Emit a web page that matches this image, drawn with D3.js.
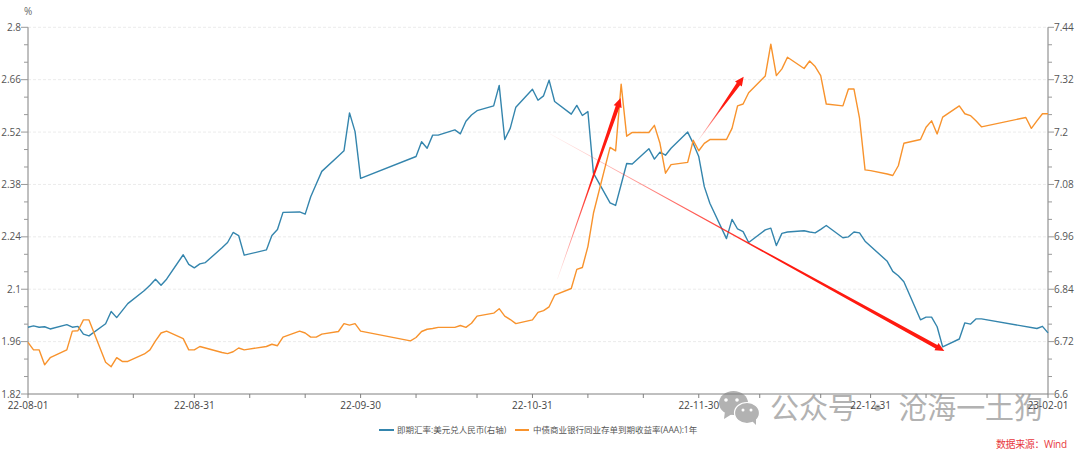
<!DOCTYPE html>
<html><head><meta charset="utf-8">
<style>html,body{margin:0;padding:0;background:#fff}svg{display:block}text{font-family:"Open Sans","Noto Sans CJK SC",sans-serif}</style>
<script src="https://cdn.jsdelivr.net/npm/d3@7"></script>
</head><body><svg id="c" width="1080" height="453"></svg>
<script>
const startDate = "2022-08-01";
const endDate = "2023-02-01";
const leftTicks = [1.82,1.96,2.1,2.24,2.38,2.52,2.66,2.8];
const rightTicks = [6.6,6.72,6.84,6.96,7.08,7.2,7.32,7.44];
const xLabelDates = ["2022-08-01","2022-08-31","2022-09-30","2022-10-31","2022-11-30","2022-12-31","2023-02-01"];
const xMinorDates = ["2022-08-10","2022-08-20","2022-09-10","2022-09-20","2022-10-10","2022-10-21","2022-11-10","2022-11-20","2022-12-11","2022-12-22","2023-01-10","2023-01-21"];
const seriesNames = ["即期汇率:美元兑人民币(右轴)","中债商业银行同业存单到期收益率(AAA):1年"];
// days since startDate
const fxDays = [0,1,2,3,4,7,8,9,10,11,14,15,16,17,18,21,22,23,24,25,28,29,30,31,32,35,36,37,38,39,43,44,45,46,49,50,51,52,53,56,57,58,59,60,70,71,72,73,74,77,78,79,80,81,84,85,86,87,88,91,92,93,94,95,98,99,100,101,102,105,106,107,108,109,112,113,114,115,116,119,120,121,122,123,126,127,128,129,130,133,134,135,136,137,140,141,142,143,144,147,148,149,150,151,155,156,157,158,161,162,163,164,165,168,169,170,171,172,182,183,184];
const fxValues = [6.753,6.756,6.753,6.754,6.749,6.759,6.753,6.755,6.737,6.733,6.761,6.789,6.775,6.791,6.807,6.837,6.849,6.863,6.849,6.863,6.919,6.897,6.889,6.898,6.901,6.935,6.947,6.970,6.963,6.918,6.930,6.963,6.977,7.016,7.017,7.012,7.052,7.081,7.110,7.145,7.157,7.244,7.201,7.094,7.144,7.178,7.163,7.193,7.193,7.205,7.196,7.225,7.239,7.249,7.260,7.307,7.183,7.209,7.257,7.298,7.273,7.283,7.319,7.270,7.241,7.261,7.238,7.247,7.106,7.038,7.032,7.080,7.128,7.127,7.162,7.138,7.154,7.147,7.163,7.200,7.174,7.144,7.075,7.037,6.956,7.000,6.978,6.972,6.947,6.976,6.980,6.940,6.968,6.971,6.974,6.971,6.969,6.977,6.986,6.958,6.960,6.971,6.969,6.950,6.904,6.881,6.871,6.857,6.770,6.776,6.776,6.754,6.708,6.726,6.763,6.760,6.772,6.772,6.750,6.755,6.740];
const cdDays = [0,1,2,3,4,7,8,9,10,11,14,15,16,17,18,21,22,23,24,25,28,29,30,31,32,35,36,37,38,39,43,44,45,46,49,50,51,52,53,56,57,58,59,60,69,70,71,72,73,74,77,78,79,80,81,84,85,86,87,88,91,92,93,94,95,98,99,100,101,102,105,106,107,108,109,112,113,114,115,116,119,120,121,122,123,126,127,128,129,130,133,134,135,136,137,140,141,142,143,144,147,148,149,150,151,152,155,156,157,158,161,162,163,164,165,168,169,170,171,172,180,181,182,183,184];
const cdValues = [1.958,1.938,1.938,1.898,1.917,1.938,1.988,1.989,2.018,2.018,1.905,1.893,1.917,1.907,1.907,1.927,1.938,1.962,1.983,1.988,1.968,1.938,1.938,1.947,1.943,1.931,1.928,1.933,1.943,1.938,1.947,1.953,1.949,1.972,1.988,1.983,1.972,1.972,1.980,1.987,2.008,2.004,2.008,1.988,1.962,1.971,1.987,1.993,1.995,1.998,1.998,2.003,1.998,2.009,2.028,2.036,2.048,2.028,2.019,2.008,2.018,2.038,2.043,2.053,2.084,2.102,2.153,2.158,2.214,2.303,2.479,2.470,2.648,2.509,2.519,2.519,2.538,2.490,2.410,2.433,2.439,2.498,2.470,2.490,2.500,2.500,2.530,2.590,2.595,2.625,2.670,2.755,2.671,2.689,2.720,2.690,2.710,2.695,2.671,2.595,2.590,2.635,2.635,2.557,2.419,2.417,2.408,2.404,2.430,2.490,2.500,2.533,2.550,2.515,2.560,2.590,2.569,2.564,2.550,2.534,2.559,2.530,2.550,2.569,2.569];
// annotation arrows: tail/tip in [days, left-axis value]
const arrowTails = [[95.5,2.127],[120.8,2.496],[94.2,2.515]];
const arrowTips = [[106.9,2.611],[129.1,2.668],[165.3,1.935]];

const parse = d3.utcParse("%Y-%m-%d");
const fmt = d3.utcFormat("%y-%m-%d");
const t0 = parse(startDate);
const toDate = d => new Date(+t0 + d*864e5);
const m = {l:28, r:1048, t:27.3, b:394};
const x = d3.scaleUtc().domain([t0, parse(endDate)]).range([m.l, m.r]);
const yL = d3.scaleLinear().domain([1.82,2.8]).range([m.b, m.t]);
const yR = d3.scaleLinear().domain([6.6,7.44]).range([m.b, m.t]);
const svg = d3.select("#c");
const tickCol = "#555", axisCol = "#808080";

// watermark (sits behind the chart)
const wmCol = "#b2b2b2";
const wm = svg.append("g").attr("fill",wmCol);
wm.append("ellipse").attr("cx",733.5).attr("cy",403).attr("rx",14.5).attr("ry",12);
wm.append("path").attr("d","M725 411 l-1 8 l8 -5 z");
wm.append("ellipse").attr("cx",747).attr("cy",413).attr("rx",12.5).attr("ry",10.5).attr("stroke","#fff").attr("stroke-width",1.2);
wm.append("path").attr("d","M752 421 l4 4 l0 -7 z");
[[726,400],[737,400]].forEach(p=>wm.append("circle").attr("cx",p[0]).attr("cy",p[1]).attr("r",1.8).attr("fill","#fff"));
[[743,410],[751,410]].forEach(p=>wm.append("circle").attr("cx",p[0]).attr("cy",p[1]).attr("r",1.5).attr("fill","#fff"));
svg.append("text").attr("x",770).attr("y",419).attr("font-size",29).attr("fill",wmCol)
  .attr("textLength",273).attr("lengthAdjust","spacing")
  .attr("style",'font-family:"Noto Sans CJK SC"').text("公众号 · 沧海一土狗");

// grid
svg.append("g").selectAll("line").data(leftTicks.slice(1)).join("line")
  .attr("x1", m.l).attr("x2", m.r).attr("y1", d=>yL(d)).attr("y2", d=>yL(d))
  .attr("stroke","#e6e6e6").attr("stroke-width",0.8).attr("stroke-dasharray","3 2");

// minor value ticks (two between each pair of major ticks)
const leftMinor = d3.pairs(leftTicks).flatMap(([a,b]) => [a+(b-a)/3, a+2*(b-a)/3]);
const rightMinor = d3.pairs(rightTicks).flatMap(([a,b]) => [a+(b-a)/3, a+2*(b-a)/3]);

const gL = svg.append("g");
gL.append("line").attr("x1",m.l).attr("x2",m.l).attr("y1",m.t).attr("y2",m.b).attr("stroke",axisCol).attr("stroke-width",1);
gL.selectAll(".mn").data(leftMinor).join("line").attr("x1",m.l-4).attr("x2",m.l).attr("y1",d=>yL(d)).attr("y2",d=>yL(d)).attr("stroke","#999");
gL.selectAll(".mj").data(leftTicks).join("line").attr("x1",m.l-7).attr("x2",m.l).attr("y1",d=>yL(d)).attr("y2",d=>yL(d)).attr("stroke","#999");
gL.selectAll("text").data(leftTicks).join("text").attr("x",m.l-7).attr("y",d=>yL(d)+3.5).attr("text-anchor","end")
  .attr("font-size",10).attr("fill",tickCol).text(d=>d);

const gR = svg.append("g");
gR.append("line").attr("x1",m.r).attr("x2",m.r).attr("y1",m.t).attr("y2",m.b).attr("stroke","#a8a8a8").attr("stroke-width",1.5);
gR.selectAll(".mn").data(rightMinor).join("line").attr("x1",m.r).attr("x2",m.r+4).attr("y1",d=>yR(d)).attr("y2",d=>yR(d)).attr("stroke","#999");
gR.selectAll(".mj").data(rightTicks).join("line").attr("x1",m.r).attr("x2",m.r+6).attr("y1",d=>yR(d)).attr("y2",d=>yR(d)).attr("stroke","#999");
gR.selectAll("text").data(rightTicks).join("text").attr("x",m.r+6).attr("y",d=>yR(d)+3.5).attr("font-size",10).attr("fill",tickCol).text(d=>d);

const gX = svg.append("g");
gX.append("line").attr("x1",m.l).attr("x2",m.r).attr("y1",m.b).attr("y2",m.b).attr("stroke",axisCol);
gX.selectAll(".t").data([...xLabelDates,...xMinorDates]).join("line").attr("x1",d=>x(parse(d))).attr("x2",d=>x(parse(d))).attr("y1",m.b).attr("y2",m.b+4).attr("stroke",axisCol);
gX.selectAll("text").data(xLabelDates).join("text").attr("x",d=>x(parse(d))).attr("y",408.5).attr("text-anchor","middle").attr("font-size",10).attr("fill","#444").text(d=>fmt(parse(d)));

svg.append("text").attr("x",24).attr("y",15).attr("font-size",10).attr("fill","#666").text("%");

// lines
const line = (days, vals, y) => d3.line().x((d,i)=>x(toDate(days[i]))).y(d=>y(d))(vals);
svg.append("path").attr("d",line(fxDays,fxValues,yR)).attr("fill","none").attr("stroke","#3485ad").attr("stroke-width",1.4).attr("stroke-linejoin","round");
svg.append("path").attr("d",line(cdDays,cdValues,yL)).attr("fill","none").attr("stroke","#f8932d").attr("stroke-width",1.4).attr("stroke-linejoin","round");

// arrows
const defs = svg.append("defs");
arrowTails.forEach((tl,i)=>{
  const p0=[x(toDate(tl[0])),yL(tl[1])], p1=[x(toDate(arrowTips[i][0])),yL(arrowTips[i][1])];
  const id="ag"+i;
  const g=defs.append("linearGradient").attr("id",id).attr("gradientUnits","userSpaceOnUse")
    .attr("x1",p0[0]).attr("y1",p0[1]).attr("x2",p1[0]).attr("y2",p1[1]);
  g.append("stop").attr("offset",0).attr("stop-color","#ff1a10").attr("stop-opacity",0.05);
  g.append("stop").attr("offset",0.3).attr("stop-color","#ff1a10").attr("stop-opacity",0.6);
  g.append("stop").attr("offset",0.55).attr("stop-color","#ff1a10").attr("stop-opacity",1);
  g.append("stop").attr("offset",1).attr("stop-color","#ff1a10").attr("stop-opacity",1);
  const dx=p1[0]-p0[0],dy=p1[1]-p0[1],L=Math.hypot(dx,dy),ux=dx/L,uy=dy/L,nx=-uy,ny=ux;
  const hl=9,hw=4.2,w0=0.25,wm2=0.7,w1=2.0;
  const bx=p1[0]-ux*hl,by=p1[1]-uy*hl,mx=(p0[0]+bx)/2,my=(p0[1]+by)/2;
  const pts=[[p0[0]+nx*w0,p0[1]+ny*w0],[mx+nx*wm2,my+ny*wm2],[bx+nx*w1,by+ny*w1],[bx+nx*hw,by+ny*hw],p1,[bx-nx*hw,by-ny*hw],[bx-nx*w1,by-ny*w1],[mx-nx*wm2,my-ny*wm2],[p0[0]-nx*w0,p0[1]-ny*w0]];
  svg.append("polygon").attr("points",pts.map(p=>p.join(",")).join(" ")).attr("fill",`url(#${id})`);
});

// legend
const legend = [{x1:379,x2:394,tx:397,c:"#3485ad",t:seriesNames[0]},{x1:515,x2:529,tx:533,c:"#f8932d",t:seriesNames[1]}];
const lg=svg.append("g");
legend.forEach(d=>{
  lg.append("line").attr("x1",d.x1).attr("x2",d.x2).attr("y1",430).attr("y2",430).attr("stroke",d.c).attr("stroke-width",2);
  lg.append("text").attr("x",d.tx).attr("y",433).attr("font-size",8.5).attr("fill","#555").text(d.t);
});
svg.append("text").attr("x",996).attr("y",448).attr("font-size",10).attr("textLength",71).attr("lengthAdjust","spacing").attr("fill","#e8383d").text("数据来源：Wind");
</script></body></html>
